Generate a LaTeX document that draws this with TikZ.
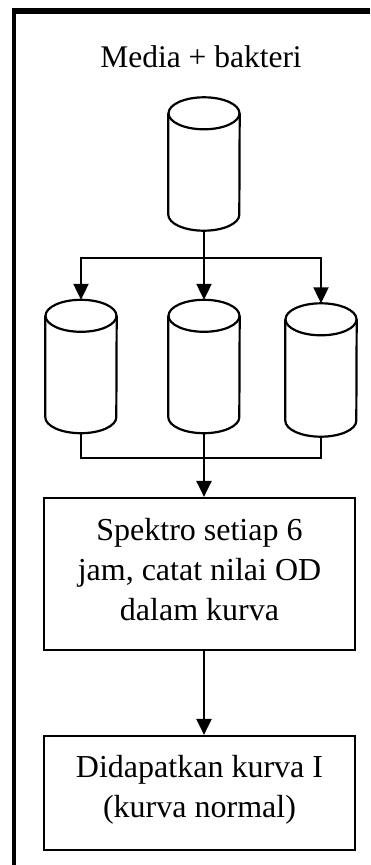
\documentclass[tikz,border=0pt]{standalone}
\usepackage{fontspec}
\setmainfont{Liberation Serif}
\usetikzlibrary{arrows.meta,calc}
\begin{document}
\fontsize{32}{40}\selectfont
\begin{tikzpicture}[x=1pt,y=1pt,
  cyl/.style={draw=none,minimum width=71pt,minimum height=133pt,inner sep=0pt},
  outl/.style={line width=2.2pt},
  conn/.style={line width=2.2pt},
  arr/.style={conn,-{Triangle[length=16pt,width=15pt]}},
  stepbox/.style={draw,line width=2.2pt,minimum width=311pt,inner sep=0pt,align=center,font=\fontsize{32}{40}\selectfont},
  frame/.style={fill=black}
]
\useasboundingbox (0,0) rectangle (370,-865);
\fill[frame] (12,-8) rectangle (370,-14);
\fill[frame] (12,-8) rectangle (16,-865);
\node[anchor=base,font=\fontsize{31.5}{38}\selectfont] (title) at (201,-67) {Media + bakteri};
\node[cyl] (c0) at (204,-164) {};
\node[cyl] (c1) at (81,-366.5) {};
\node[cyl] (c2) at (204,-366.5) {};
\node[cyl] (c3) at (321,-370) {};
\foreach \c in {c0,c1,c2,c3}{
  \draw[outl] ($(\c.north west)+(0,-16)$) -- ($(\c.south west)+(0,16)$) arc[start angle=180,end angle=360,x radius=35.5,y radius=16] -- ($(\c.north east)+(0,-16)$);
  \draw[outl] ($(\c.north)+(0,-16)$) ellipse[x radius=35.5,y radius=16];
}
\node[stepbox,minimum height=152pt] (b1) at (199.5,-574) {Spektro setiap 6\\jam, catat nilai OD\\dalam kurva\rule[-10pt]{0pt}{0pt}};
\node[stepbox,minimum height=114pt] (b2) at (199.5,-793) {Didapatkan kurva I\\(kurva normal)\rule[-14pt]{0pt}{0pt}};
\coordinate (s) at (204,-258);
\coordinate (j) at (204,-458);
\draw[arr] (c0.south) -- (c2.north);
\draw[arr] (s) -| (c1.north);
\draw[arr] (s) -| (c3.north);
\draw[conn] (c1.south) |- (j);
\draw[conn] (c3.south) |- (j);
\draw[arr] (c2.south) -- (b1.north -| c2.south);
\draw[arr] (b1.south -| c2.south) -- (b2.north -| c2.south);
\end{tikzpicture}
\end{document}
